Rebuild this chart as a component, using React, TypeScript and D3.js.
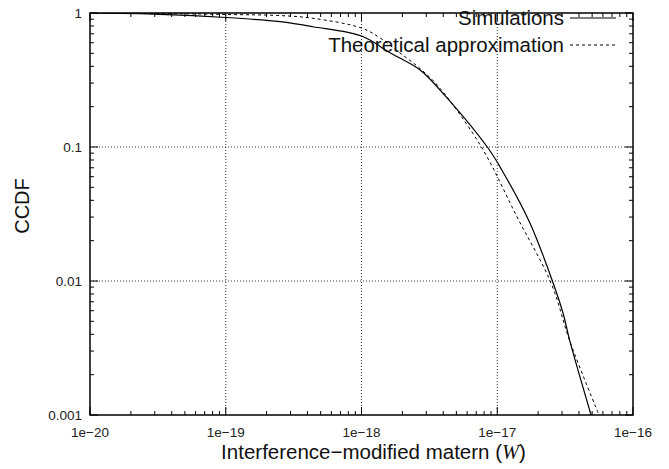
import React, { useEffect, useRef } from 'react';
import * as d3 from 'd3';

// values
const simW = [1e-20, 3.28e-20, 1e-19, 2.51e-19, 4.39e-19, 1.01e-18, 1.62e-18, 2.7e-18, 3.79e-18, 8.55e-18, 1.08e-17, 1.74e-17, 2.58e-17, 3.05e-17, 3.44e-17, 4.91e-17];
const simP = [1, 0.978, 0.926, 0.861, 0.79, 0.67, 0.505, 0.376, 0.266, 0.0983, 0.0674, 0.0271, 0.00966, 0.00577, 0.00351, 0.001];
const theoW = [1e-20, 3.28e-20, 1e-19, 2.51e-19, 4.39e-19, 1.01e-18, 1.37e-18, 1.92e-18, 2.7e-18, 3.79e-18, 7.72e-18, 1.4e-17, 2.49e-17, 3.44e-17, 5.62e-17];
const theoP = [1, 0.992, 0.975, 0.957, 0.913, 0.77, 0.651, 0.503, 0.385, 0.274, 0.0983, 0.03, 0.00966, 0.00351, 0.001];

const xTicks = [1e-20, 1e-19, 1e-18, 1e-17, 1e-16];
const xTickLabels = ['1e\u221220', '1e\u221219', '1e\u221218', '1e\u221217', '1e\u221216'];
const yTicks = [0.001, 0.01, 0.1, 1];
const yTickLabels = ['0.001', '0.01', '0.1', '1'];

const seriesNames = ['Simulations', 'Theoretical approximation'];

const width = 669;
const height = 469;
const margin = { top: 13, right: 36, bottom: 54, left: 90 };
const font = '"Liberation Sans", Arial, sans-serif';

const App = () => {
  const ref = useRef<SVGSVGElement | null>(null);

  useEffect(() => {
    const svg = d3.select(ref.current);
    svg.selectAll('*').remove();

    const x = d3.scaleLog().domain([1e-20, 1e-16]).range([margin.left, width - margin.right]);
    const y = d3.scaleLog().domain([0.001, 1]).range([height - margin.bottom, margin.top]);
    const [x0, x1] = x.range();
    const [y0, y1] = y.range();

    svg.append('rect').attr('width', width).attr('height', height).attr('fill', '#fff');

    // grid
    const grid = svg.append('g').attr('stroke', '#333').attr('stroke-width', 1).attr('stroke-dasharray', '1,2');
    xTicks.slice(1, -1).forEach((t) => {
      grid.append('line').attr('x1', x(t)).attr('x2', x(t)).attr('y1', y0).attr('y2', y1);
    });
    yTicks.slice(1, -1).forEach((t) => {
      grid.append('line').attr('x1', x0).attr('x2', x1).attr('y1', y(t)).attr('y2', y(t));
    });

    // ticks on all four sides, inward
    const tk = svg.append('g').attr('stroke', '#000').attr('stroke-width', 1);
    const isMajor = (v: number) => Math.abs(Math.log10(v) - Math.round(Math.log10(v))) < 1e-6;
    x.ticks().forEach((t) => {
      const len = isMajor(t) ? 8 : 4;
      tk.append('line').attr('x1', x(t)).attr('x2', x(t)).attr('y1', y0).attr('y2', y0 - len);
      tk.append('line').attr('x1', x(t)).attr('x2', x(t)).attr('y1', y1).attr('y2', y1 + len);
    });
    y.ticks().forEach((t) => {
      const len = isMajor(t) ? 8 : 4;
      tk.append('line').attr('x1', x0).attr('x2', x0 + len).attr('y1', y(t)).attr('y2', y(t));
      tk.append('line').attr('x1', x1).attr('x2', x1 - len).attr('y1', y(t)).attr('y2', y(t));
    });

    // tick labels
    svg.append('g').selectAll('text').data(xTicks).enter().append('text')
      .attr('x', (d) => x(d)).attr('y', y0 + 22)
      .attr('text-anchor', 'middle')
      .style('font-family', font).style('font-size', '13.5px').attr('fill', '#222')
      .text((d, i) => xTickLabels[i]);
    svg.append('g').selectAll('text').data(yTicks).enter().append('text')
      .attr('x', x0 - 8).attr('y', (d) => y(d)).attr('dy', '0.35em')
      .attr('text-anchor', 'end')
      .style('font-family', font).style('font-size', '13.5px').attr('fill', '#222')
      .text((d, i) => yTickLabels[i]);

    // curves
    svg.append('clipPath').attr('id', 'plot-clip').append('rect')
      .attr('x', x0).attr('y', y1).attr('width', x1 - x0).attr('height', y0 - y1);
    const line = d3.line<[number, number]>()
      .x((d) => x(d[0])).y((d) => y(d[1]))
      .curve(d3.curveCatmullRom.alpha(0.5));
    const sim = simW.map((w, i) => [w, simP[i]] as [number, number]);
    const theo = theoW.map((w, i) => [w, theoP[i]] as [number, number]);
    const curves = svg.append('g').attr('clip-path', 'url(#plot-clip)').attr('fill', 'none');
    curves.append('path').attr('d', line(sim)).attr('stroke', '#000').attr('stroke-width', 1.2);
    curves.append('path').attr('d', line(theo)).attr('stroke', '#000').attr('stroke-width', 1)
      .attr('stroke-dasharray', '3,3');

    // border
    svg.append('rect').attr('x', x0).attr('y', y1).attr('width', x1 - x0).attr('height', y0 - y1)
      .attr('fill', 'none').attr('stroke', '#000').attr('stroke-width', 1.5);

    // legend
    const lg = svg.append('g');
    seriesNames.forEach((name, i) => {
      const ly = 18 + i * 27;
      lg.append('text').attr('x', 564).attr('y', ly).attr('dy', '0.35em').attr('text-anchor', 'end')
        .style('font-family', font).style('font-size', '20.5px').attr('fill', '#111').text(name);
      lg.append('line').attr('x1', 570).attr('x2', 616).attr('y1', ly).attr('y2', ly)
        .attr('stroke', '#000').attr('stroke-width', i === 0 ? 1.2 : 1)
        .attr('stroke-dasharray', i === 0 ? null : '3,3');
    });

    // axis titles
    svg.append('text')
      .attr('transform', 'translate(22,206) rotate(-90)')
      .attr('dy', '0.35em').attr('text-anchor', 'middle')
      .style('font-family', font).style('font-size', '20px').attr('fill', '#111')
      .text('CCDF');
    const xt = svg.append('text')
      .attr('x', (x0 + x1) / 2 + 12).attr('y', 459)
      .attr('text-anchor', 'middle')
      .style('font-family', font).style('font-size', '20.5px').attr('fill', '#111');
    xt.append('tspan').text('Interference\u2212modified matern (');
    xt.append('tspan').style('font-family', '"Liberation Serif", serif').style('font-style', 'italic').text('W');
    xt.append('tspan').text(')');
  }, []);

  return (
    <svg
      ref={ref}
      width={width}
      height={height}
      style={{ position: 'absolute', left: 0, top: 0, display: 'block' }}
    />
  );
};

export default App;
